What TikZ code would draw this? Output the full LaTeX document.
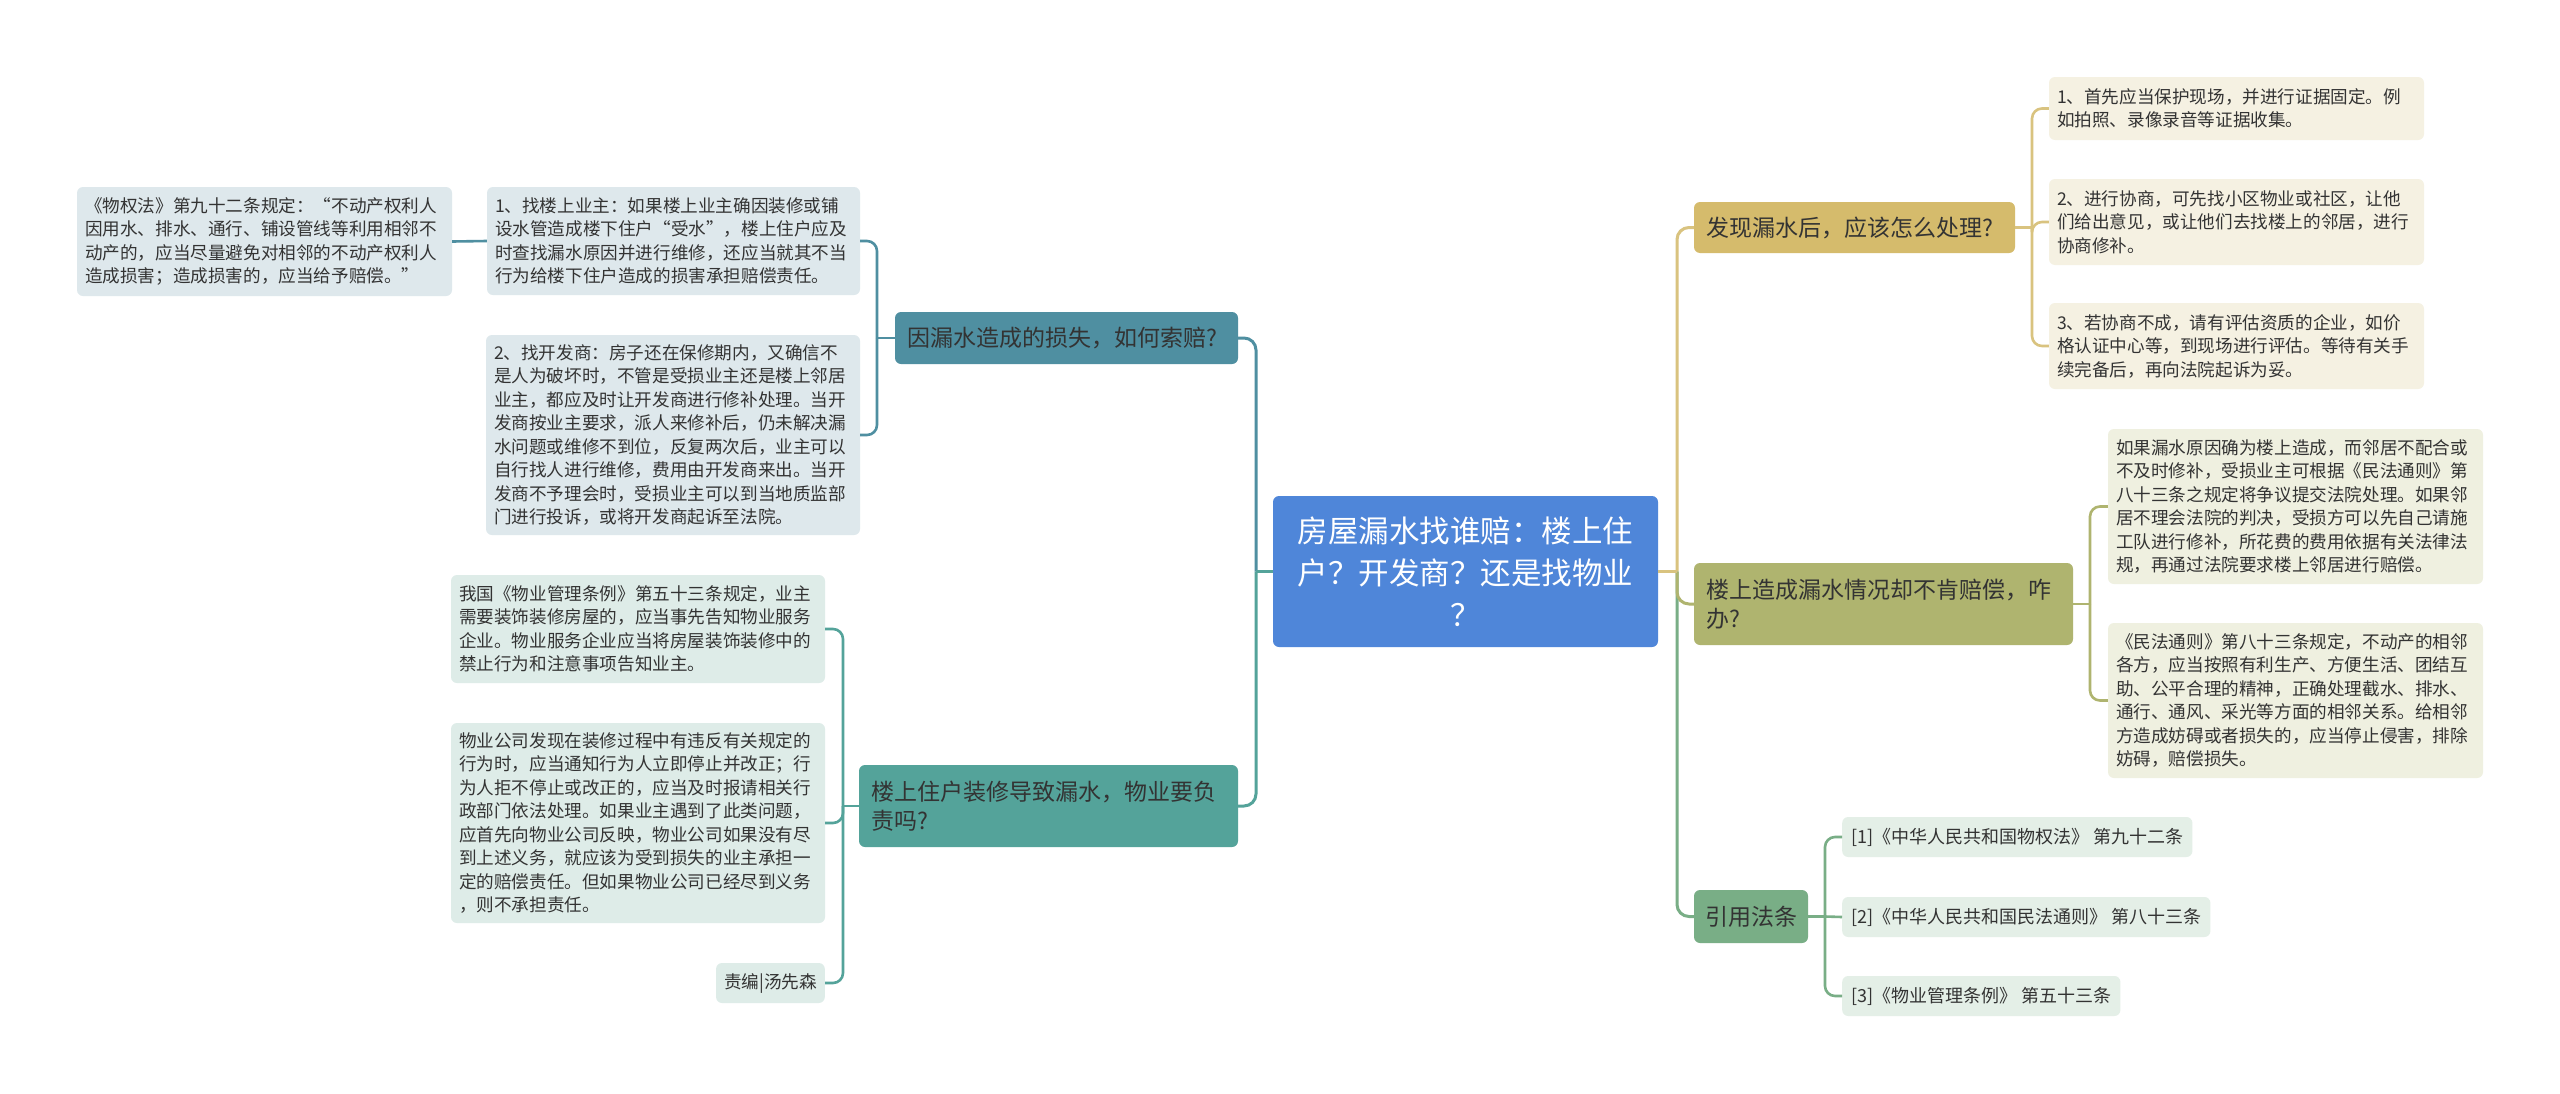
\documentclass[tikz,border=0pt]{standalone}
\usepackage{fontspec}
\setmainfont{Noto Sans CJK SC}
\definecolor{cblue}{HTML}{4F86D9}
\definecolor{lOne}{HTML}{4F8FA1}
\definecolor{lTwo}{HTML}{54A39A}
\definecolor{lOneFill}{HTML}{DEE8EC}
\definecolor{lTwoFill}{HTML}{DEECE8}
\definecolor{rOne}{HTML}{D5BB6C}
\definecolor{rOneLine}{HTML}{D9C37F}
\definecolor{rOneFill}{HTML}{F5F1E2}
\definecolor{rTwo}{HTML}{AFB46F}
\definecolor{rTwoFill}{HTML}{EFF0E0}
\definecolor{rThree}{HTML}{79AE86}
\definecolor{rThreeFill}{HTML}{E4EFE7}
\definecolor{txt}{HTML}{333333}
\begin{document}
\begin{tikzpicture}[x=1pt,y=-1pt,
  base/.style={rounded corners=6pt, inner ysep=0pt, anchor=center, text=txt},
  child/.style={base, inner xsep=8pt, align=left, font=\fontsize{17.6}{23.5}\selectfont},
  refbox/.style={base, inner xsep=9pt, minimum height=40pt, font=\fontsize{18}{23.5}\selectfont},
  branch/.style={base, inner xsep=12pt, align=left, font=\fontsize{23}{29}\selectfont},
  conn/.style={line width=2.6pt, rounded corners=10pt},
  trunk/.style={line width=3pt, rounded corners=12pt}
]
\useasboundingbox (0,0) rectangle (2560,1093);
\fill[white] (0,0) rectangle (2560,1093);

% central
\node[base, fill=cblue, text=white, align=center, minimum width=385pt, minimum height=151pt,
  font=\fontsize{30.5}{41.7}\selectfont] (C) at (1465.5,571.5)
  {房屋漏水找谁赔：楼上住\\户？开发商？还是找物业\\？};

% left branches
\node[branch, fill=lOne, minimum width=343pt, minimum height=52pt, text width=319pt] (L1) at (1066.5,338)
  {因漏水造成的损失，如何索赔?};
\node[branch, fill=lTwo, minimum width=379pt, minimum height=82pt, text width=355pt] (L2) at (1048.5,806)
  {楼上住户装修导致漏水，物业要负\\责吗?};

\node[child, fill=lOneFill, minimum width=375pt, minimum height=109pt, text width=359pt] (L1a) at (264.5,241.5)
  {《物权法》第九十二条规定：“不动产权利人\\因用水、排水、通行、铺设管线等利用相邻不\\动产的，应当尽量避免对相邻的不动产权利人\\造成损害；造成损害的，应当给予赔偿。”};
\node[child, fill=lOneFill, minimum width=373pt, minimum height=108pt, text width=357pt] (L1b) at (673.5,241)
  {1、找楼上业主：如果楼上业主确因装修或铺\\设水管造成楼下住户“受水”，楼上住户应及\\时查找漏水原因并进行维修，还应当就其不当\\行为给楼下住户造成的损害承担赔偿责任。};
\node[child, fill=lOneFill, minimum width=374pt, minimum height=200pt, text width=358pt] (L1c) at (673,435)
  {2、找开发商：房子还在保修期内，又确信不\\是人为破坏时，不管是受损业主还是楼上邻居\\业主，都应及时让开发商进行修补处理。当开\\发商按业主要求，派人来修补后，仍未解决漏\\水问题或维修不到位，反复两次后，业主可以\\自行找人进行维修，费用由开发商来出。当开\\发商不予理会时，受损业主可以到当地质监部\\门进行投诉，或将开发商起诉至法院。};

\node[child, fill=lTwoFill, minimum width=374pt, minimum height=108pt, text width=358pt] (L2a) at (638,629)
  {我国《物业管理条例》第五十三条规定，业主\\需要装饰装修房屋的，应当事先告知物业服务\\企业。物业服务企业应当将房屋装饰装修中的\\禁止行为和注意事项告知业主。};
\node[child, fill=lTwoFill, minimum width=374pt, minimum height=200pt, text width=358pt] (L2b) at (638,823)
  {物业公司发现在装修过程中有违反有关规定的\\行为时，应当通知行为人立即停止并改正；行\\为人拒不停止或改正的，应当及时报请相关行\\政部门依法处理。如果业主遇到了此类问题，\\应首先向物业公司反映，物业公司如果没有尽\\到上述义务，就应该为受到损失的业主承担一\\定的赔偿责任。但如果物业公司已经尽到义务\\，则不承担责任。};
\node[child, fill=lTwoFill, minimum height=40pt, anchor=east] (L2c) at (825,983) {责编|汤先森};

% right branches
\node[branch, fill=rOne, minimum width=321pt, minimum height=51pt, text width=297pt] (R1) at (1854.5,227.5)
  {发现漏水后，应该怎么处理?};
\node[branch, fill=rTwo, minimum width=379pt, minimum height=82pt, text width=355pt] (R2) at (1883.5,604)
  {楼上造成漏水情况却不肯赔偿，咋\\办?};
\node[branch, fill=rThree, minimum width=114pt, minimum height=53pt, inner xsep=11pt] (R3) at (1751,916.5)
  {引用法条};

\node[child, fill=rOneFill, minimum width=375pt, minimum height=63pt, text width=359pt] (R1a) at (2236.5,108.5)
  {1、首先应当保护现场，并进行证据固定。例\\如拍照、录像录音等证据收集。};
\node[child, fill=rOneFill, minimum width=375pt, minimum height=86pt, text width=359pt] (R1b) at (2236.5,222)
  {2、进行协商，可先找小区物业或社区，让他\\们给出意见，或让他们去找楼上的邻居，进行\\协商修补。};
\node[child, fill=rOneFill, minimum width=375pt, minimum height=86pt, text width=359pt] (R1c) at (2236.5,346)
  {3、若协商不成，请有评估资质的企业，如价\\格认证中心等，到现场进行评估。等待有关手\\续完备后，再向法院起诉为妥。};

\node[child, fill=rTwoFill, minimum width=375pt, minimum height=155pt, text width=359pt] (R2a) at (2295.5,506.5)
  {如果漏水原因确为楼上造成，而邻居不配合或\\不及时修补，受损业主可根据《民法通则》第\\八十三条之规定将争议提交法院处理。如果邻\\居不理会法院的判决，受损方可以先自己请施\\工队进行修补，所花费的费用依据有关法律法\\规，再通过法院要求楼上邻居进行赔偿。};
\node[child, fill=rTwoFill, minimum width=375pt, minimum height=155pt, text width=359pt] (R2b) at (2295.5,700.5)
  {《民法通则》第八十三条规定，不动产的相邻\\各方，应当按照有利生产、方便生活、团结互\\助、公平合理的精神，正确处理截水、排水、\\通行、通风、采光等方面的相邻关系。给相邻\\方造成妨碍或者损失的，应当停止侵害，排除\\妨碍，赔偿损失。};

\node[refbox, fill=rThreeFill, anchor=west] (R3a) at (1842,837) {{[1]}《中华人民共和国物权法》 第九十二条};
\node[refbox, fill=rThreeFill, anchor=west] (R3b) at (1842,917) {{[2]}《中华人民共和国民法通则》 第八十三条};
\node[refbox, fill=rThreeFill, anchor=west] (R3c) at (1842,996) {{[3]}《物业管理条例》 第五十三条};

% junction coordinates
\coordinate (lj) at (1256,571.5);
\coordinate (rj) at (1677,571.5);
\coordinate (l1j) at (877,338);
\coordinate (l2j) at (843,806);
\coordinate (r1j) at (2032,227.5);
\coordinate (r2j) at (2090,604);
\coordinate (r3j) at (1825,916.5);

% left connectors
\draw[trunk, lOne] (lj) |- (L1.east);
\draw[trunk, lTwo] (lj) |- (L2.east);
\draw[trunk, lTwo] (C.west) -- (lj);
\draw[conn, lOne] (L1.west) -- (l1j);
\draw[conn, lOne] (l1j) |- (L1b.east);
\draw[conn, lOne] (l1j) |- (L1c.east);
\draw[conn, lOne] (L1b.west) -- (L1a.east);
\draw[conn, lTwo] (L2.west) -- (l2j);
\draw[conn, lTwo] (l2j) |- (L2a.east);
\draw[conn, lTwo] (l2j) |- (L2b.east);
\draw[conn, lTwo] (l2j) |- (L2c.east);

% right connectors
\draw[trunk, rOneLine] (rj) |- (R1.west);
\draw[trunk, rThree] (rj) |- (R3.west);
\draw[trunk, rTwo] (rj) |- (R2.west);
\draw[trunk, rOneLine] (C.east) -- (rj);
\draw[conn, rOneLine] (R1.east) -- (r1j);
\draw[conn, rOneLine] (r1j) |- (R1a.west);
\draw[conn, rOneLine] (r1j) |- (R1b.west);
\draw[conn, rOneLine] (r1j) |- (R1c.west);
\draw[conn, rTwo] (R2.east) -- (r2j);
\draw[conn, rTwo] (r2j) |- (R2a.west);
\draw[conn, rTwo] (r2j) |- (R2b.west);
\draw[conn, rThree] (R3.east) -- (r3j);
\draw[conn, rThree] (r3j) |- (R3a.west);
\draw[conn, rThree] (r3j) -- (R3b.west);
\draw[conn, rThree] (r3j) |- (R3c.west);
\end{tikzpicture}
\end{document}
